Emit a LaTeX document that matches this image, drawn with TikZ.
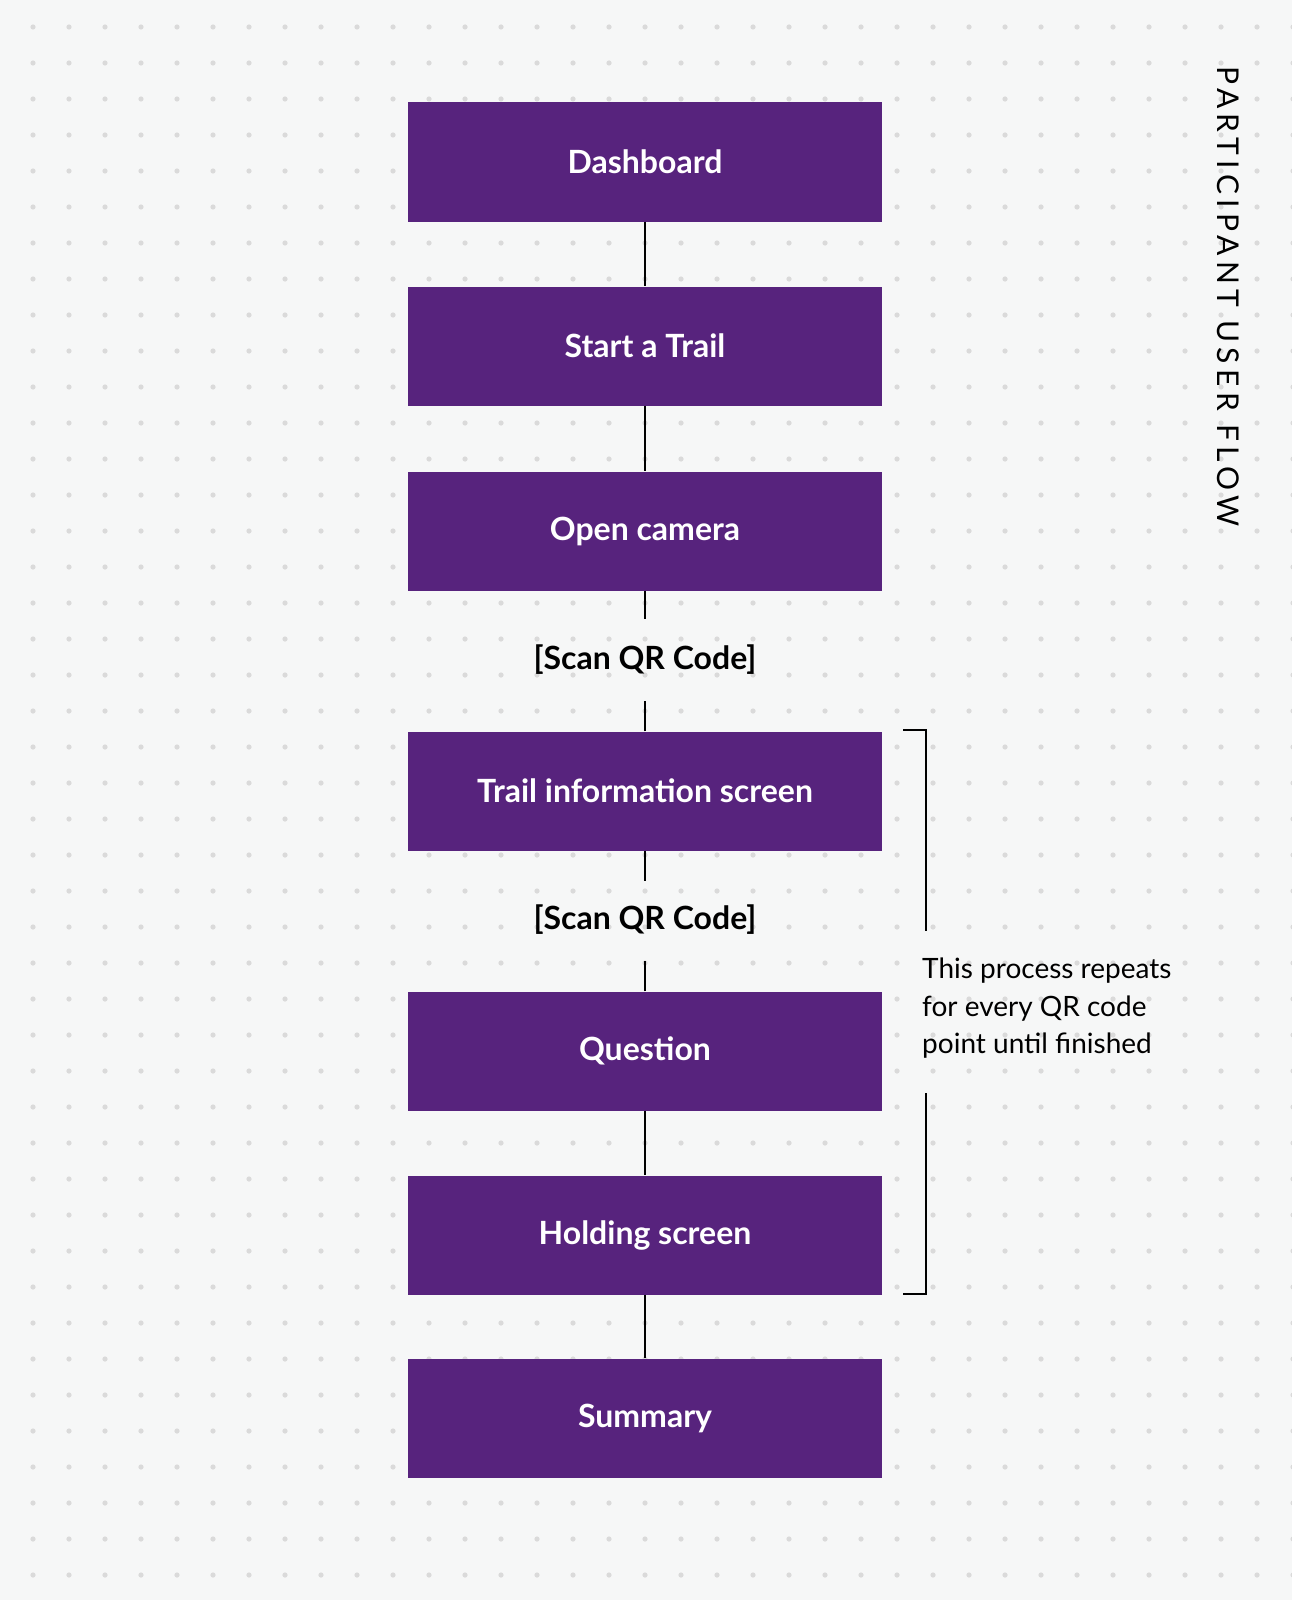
\documentclass[tikz,border=0pt]{standalone}
\usepackage{fontspec}
\setmainfont{Poppins}
\newfontfamily\lab{Lato}
\definecolor{bg}{HTML}{F6F7F7}
\definecolor{dotc}{HTML}{DADADA}
\definecolor{purp}{HTML}{57237D}
\begin{document}
\begin{tikzpicture}[x=1pt,y=-1pt,
  box/.style={fill=purp,minimum width=474pt,minimum height=119pt,inner sep=0pt,text=white,font=\lab\bfseries\fontsize{32}{38}\selectfont},
  scan/.style={font=\lab\bfseries\fontsize{32}{38}\selectfont,inner sep=0pt},
  conn/.style={line width=1.5pt},
  brk/.style={line width=2pt}]
\fill[bg] (0,0) rectangle (1292,1600);
\useasboundingbox (0,0) rectangle (1292,1600);
\foreach \i in {0,...,35}{\foreach \j in {0,...,44}{
  \fill[dotc] (33+36*\i,27+36*\j) circle (2.6);}}
\node[box] (a) at (645,162) {Dashboard};
\node[box] (b) at (645,346) {Start a Trail};
\node[box] (c) at (645,531) {Open camera};
\node[scan] (s1) at (645,660) {[Scan QR Code]};
\node[box] (d) at (645,791) {Trail information screen};
\node[scan] (s2) at (645,920) {[Scan QR Code]};
\node[box] (e) at (645,1051) {Question};
\node[box] (f) at (645,1235) {Holding screen};
\node[box] (g) at (645,1418) {Summary};
\draw[conn] (a) -- (b);
\draw[conn] (b) -- (c);
\draw[conn] (c.south) -- ++(0,28);
\draw[conn] (d.north) -- ++(0,-30);
\draw[conn] (d.south) -- ++(0,30);
\draw[conn] (e.north) -- ++(0,-30);
\draw[conn] (e) -- (f);
\draw[conn] (f) -- (g);
\coordinate (t1) at (903,730);
\coordinate (t2) at (926,931);
\coordinate (t3) at (926,1093);
\coordinate (t4) at (903,1294);
\draw[brk] (t1) -| (t2);
\draw[brk] (t3) |- (t4);
\node[anchor=north west,align=left,inner sep=0pt,font=\lab\fontsize{28}{37.5}\selectfont] (note) at (922,958) {This process repeats\\for every QR code\\point until finished};
\node[rotate=-90,anchor=west,inner sep=0pt,font=\lab\fontsize{30}{36}\selectfont\addfontfeature{LetterSpace=18}] (title) at (1228,66) {PARTICIPANT USER FLOW};
\end{tikzpicture}
\end{document}
